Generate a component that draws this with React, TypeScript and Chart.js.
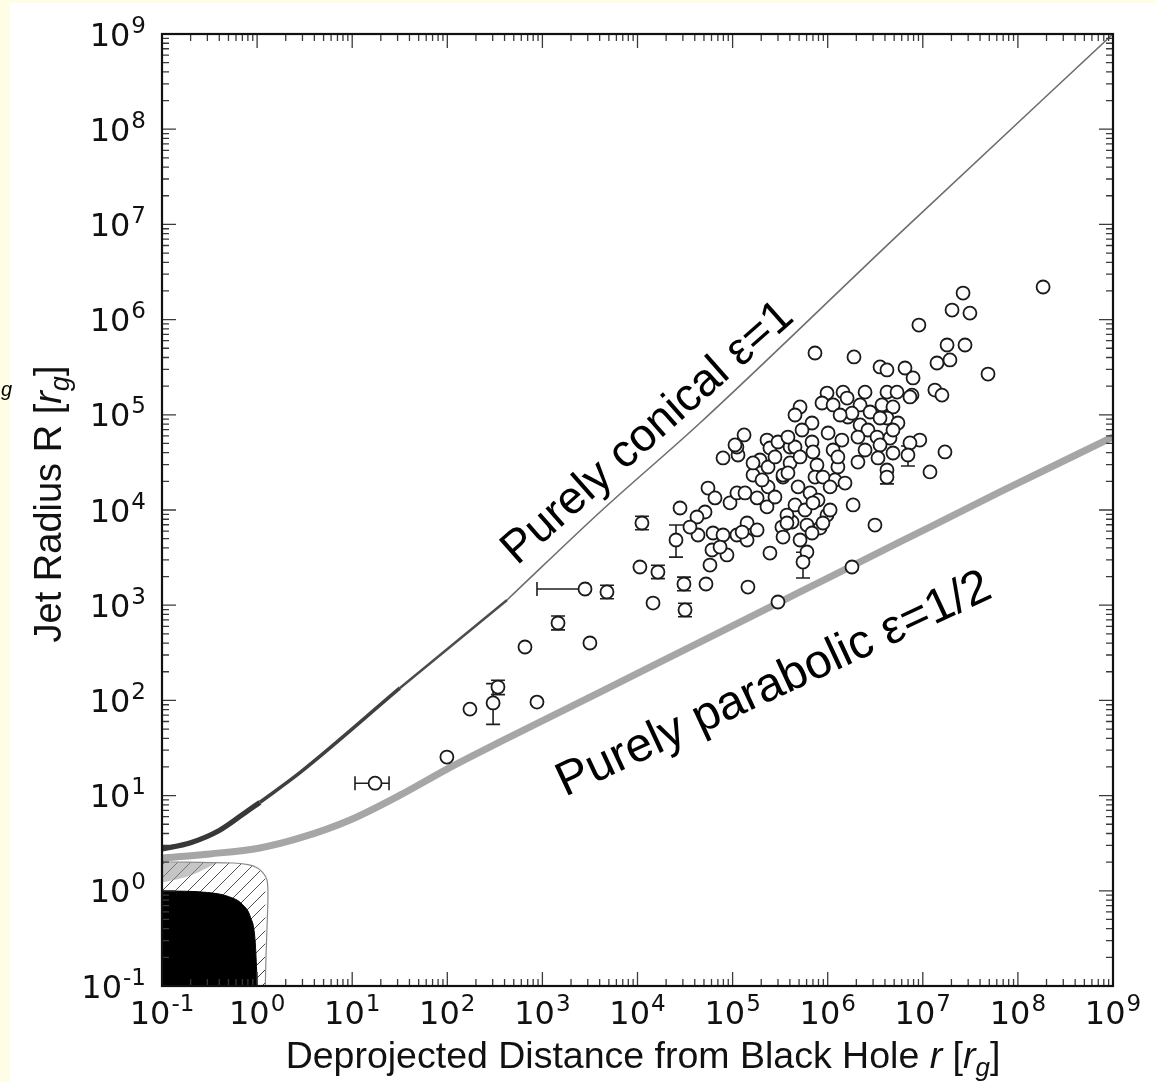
import React, { useEffect, useRef } from 'react';
import { Chart, registerables } from 'chart.js';

Chart.register(...registerables);

// ---- axes ----
const AXIS_MIN = 0.1;
const AXIS_MAX = 1e9;
const decadeExponents = [-1, 0, 1, 2, 3, 4, 5, 6, 7, 8, 9];
const minorMantissas = [2, 3, 4, 5, 6, 7, 8, 9];

// ---- black hole (horizon) and ergosphere outlines ----
const horizonDist = [0.1, 0.3, 0.5, 0.7, 0.85, 0.95, 0.99, 1.0];
const horizonRadius = [1.0, 0.96, 0.87, 0.72, 0.53, 0.31, 0.14, 0.1];
const ergoDist = [0.1, 0.56, 0.8, 1.0, 1.15, 1.27, 1.3, 1.28, 1.24, 1.22];
const ergoRadius = [2.02, 1.96, 1.88, 1.75, 1.55, 1.3, 0.9, 0.5, 0.2, 0.1];
const ergoShadeDist = [0.1, 0.2, 0.3, 0.38];
const ergoShadeTop = [2.0, 1.99, 1.98, 1.97];
const ergoShadeBottom = [1.22, 1.45, 1.75, 1.97];

// ---- model curves ----
const conicalDist = [0.1, 0.2, 0.4, 0.7, 1.07, 2.8, 31.8, 425, 4040, 45400, 5.75e6, 1e9];
const conicalRadius = [2.75, 3.2, 4.3, 6.3, 8.5, 17.3, 135, 1135, 9530, 82000, 8.1e6, 1e9];
const parabolicDist = [0.1, 0.32, 1.07, 2.82, 9.5, 31.8, 99.4, 358, 4040, 45400, 5.12e5, 5.75e6, 6.49e7, 1e9];
const parabolicRadius = [2.21, 2.44, 2.82, 3.59, 5.55, 10.1, 19.0, 36.6, 122, 410, 1377, 4613, 15460, 58500];

// ---- observed jet widths ----
const jetDist = [
  17.4, 99, 173, 303, 341, 656, 877, 1460, 3160, 2806,
  4775, 11140, 28000, 25400, 10600, 16400, 14560, 30800, 52500, 31600,
  79300, 114000, 111000, 132000, 230000, 247000, 300000, 194000, 164000, 236000,
  339000, 236000, 55100, 65300, 94000, 111000, 135000, 181000, 230000, 51300,
  42200, 142000, 330000, 43300, 62200, 79300, 111000, 142000, 339000, 60700,
  87300, 247000, 57800, 145000, 300000, 735000, 1.89e6, 3.55e6, 4.2e6, 6.5e6,
  7.9e6, 7.7e6, 1.41e7, 1.93e7, 1.8e7, 2.78e7, 1.34e7, 1.59e7, 984000, 1.45e6,
  2.47e6, 4.2e6, 5.36e6, 512000, 453000, 871000, 1.14e6, 1.6e6, 2.19e6, 3.72e6,
  4.86e6, 684000, 1.63e6, 2.19e6, 4.2e6, 5.48e6, 1.01e6, 1.41e6, 2.65e6, 3.3e6,
  4.52e6, 9.3e6, 7.33e6, 1.71e7, 402000, 684000, 700000, 1.14e6, 2.47e6, 3.55e6,
  4.86e6, 6.98e6, 1.19e7, 402000, 771000, 1.28e6, 2.08e6, 3.38e6, 4.2e6, 4.2e6,
  339000, 735000, 1.19e6, 1.52e6, 652000, 791000, 453000, 577000, 984000, 1.85e6,
  422000, 605000, 830000, 3.14e6, 512000, 605000, 550000, 1.8e6, 2.65e7, 2.03e7,
  3.13e7, 9.1e6, 4.85e7, 1.84e8, 106000, 7.33e6,
  453000, 512000, 891000, 1.06e6, 700000, 1.06e6, 373000, 684000, 891000, 1.28e6,
  2.08e6, 1.8e6, 2.79e6, 3.55e6, 4.86e6, 1.35e6, 537000, 382000, 382000, 488000,
  164000, 279000, 204000, 279000, 373000, 126000, 73800, 181000, 35600,
];
const jetRadius = [
  13.5, 25.4, 81, 94, 138, 364, 96, 650, 401, 1479,
  1377, 7300, 10500, 4840, 2520, 2230, 1054, 1670, 1670, 891,
  35200, 37800, 45900, 61400, 54300, 44800, 51800, 33500, 23300, 28300,
  22200, 17500, 17000, 13400, 11900, 15100, 15100, 13400, 10800, 9530,
  8440, 7300, 6620, 5460, 5730, 5460, 5460, 4840, 5200, 3800,
  3370, 3530, 2640, 1550, 1080, 446000, 405000, 318000, 296000, 310000,
  244000, 161000, 350000, 377000, 541000, 541000, 182000, 161000, 169000, 173000,
  173000, 173000, 173000, 121000, 99500, 133000, 127000, 150000, 127000, 127000,
  121000, 82000, 94800, 78200, 92500, 82000, 64400, 54300, 69200, 58400,
  57000, 54300, 50600, 40700, 45900, 51800, 40700, 42700, 42700, 48200,
  39700, 37800, 25100, 31200, 29700, 28300, 31900, 35200, 26300, 22200,
  23300, 22200, 20700, 19200, 15100, 12700, 11300, 10000, 8850, 11300,
  7480, 6950, 6470, 6950, 4840, 3620, 2840, 2520, 1.9e6, 1.26e6,
  1.17e6, 877000, 268000, 2.2e6, 48200, 154000,
  45900, 36100, 22200, 17500, 11900, 10000, 8850, 5730, 7300, 36100,
  58400, 104000, 107000, 92500, 69200, 99500, 69200, 58400, 24500, 17500,
  31200, 36100, 20700, 13700, 7300, 5870, 4080, 6170, 6620,
];

// ---- error bars (centre, low, high) ----
const errDist = [17.4, 303, 2806, 25400, 6.98e6, 550000, 341, 1460, 11140, 16400, 30800, 31600, 4775, 4.2e6];
const errRadius = [13.5, 94, 1479, 4840, 37800, 2840, 138, 650, 7300, 2230, 1670, 891, 1377, 22200];
const errDistLo = [10.7, 303, 877, 25400, 6.98e6, 550000, 341, 1460, 11140, 16400, 30800, 31600, 4775, 4.2e6];
const errDistHi = [24.4, 303, 3000, 25400, 6.98e6, 550000, 341, 1460, 11140, 16400, 30800, 31600, 4775, 4.2e6];
const errRadiusLo = [13.5, 56, 1479, 3200, 29000, 1930, 115, 550, 6200, 1900, 1420, 755, 1170, 18800];
const errRadiusHi = [13.5, 150, 1479, 6950, 47000, 3600, 163, 770, 8600, 2630, 1970, 1050, 1620, 26200];

// ---- texts ----
const xTitleRuns = [
  { t: 'Deprojected Distance from Black Hole ', italic: false, sub: false },
  { t: 'r', italic: true, sub: false },
  { t: ' [', italic: false, sub: false },
  { t: 'r', italic: true, sub: false },
  { t: 'g', italic: true, sub: true },
  { t: ']', italic: false, sub: false },
];
const yTitleRuns = [
  { t: 'Jet Radius R [', italic: false, sub: false },
  { t: 'r', italic: true, sub: false },
  { t: 'g', italic: true, sub: true },
  { t: ']', italic: false, sub: false },
];
const conicalLabel = 'Purely conical ε=1';
const parabolicLabel = 'Purely parabolic ε=1/2';

const SANS = '"Liberation Sans", Arial, sans-serif';
const DEJAVU = '"DejaVu Sans", sans-serif';

const pairs = (xs: number[], ys: number[]) => xs.map((x, i) => ({ x, y: ys[i] }));

function drawRuns(ctx: CanvasRenderingContext2D, runs: any[], cx: number, baseline: number, size: number) {
  const fontFor = (r: any) =>
    `${r.italic ? 'italic ' : ''}${r.sub ? Math.round(size * 0.7) : size}px ${SANS}`;
  const widths = runs.map((r) => {
    ctx.font = fontFor(r);
    return ctx.measureText(r.t).width;
  });
  const total = widths.reduce((a, b) => a + b, 0);
  let x = cx - total / 2;
  ctx.textAlign = 'left';
  ctx.textBaseline = 'alphabetic';
  runs.forEach((r, i) => {
    ctx.font = fontFor(r);
    ctx.fillText(r.t, x, baseline + (r.sub ? size * 0.2 : 0));
    x += widths[i];
  });
}

function drawPower(ctx: CanvasRenderingContext2D, exp: string, x: number, baseline: number, align: string) {
  const BASE = 32;
  const SUP = 23;
  ctx.font = `${BASE}px ${DEJAVU}`;
  const wb = ctx.measureText('10').width;
  ctx.font = `${SUP}px ${DEJAVU}`;
  const ws = ctx.measureText(exp).width;
  const total = wb + 1 + ws;
  const x0 = align === 'right' ? x - total : x - total / 2;
  ctx.textAlign = 'left';
  ctx.textBaseline = 'alphabetic';
  ctx.font = `${BASE}px ${DEJAVU}`;
  ctx.fillText('10', x0, baseline);
  ctx.font = `${SUP}px ${DEJAVU}`;
  ctx.fillText(exp, x0 + wb + 1, baseline - 13);
}

const decor = {
  id: 'decor',
  beforeDraw(chart: any) {
    const ctx = chart.ctx as CanvasRenderingContext2D;
    ctx.save();
    ctx.fillStyle = '#ffffff';
    ctx.fillRect(0, 0, chart.width, chart.height);
    ctx.fillStyle = '#fffde6';
    ctx.fillRect(0, 0, 10, chart.height);
    ctx.fillRect(0, 0, chart.width, 3);
    ctx.fillStyle = '#000';
    ctx.font = `italic 20px ${SANS}`;
    ctx.textAlign = 'left';
    ctx.textBaseline = 'alphabetic';
    ctx.fillText('g', 1, 396);
    ctx.restore();
  },
  beforeDatasetDraw(chart: any, args: any) {
    if (args.index !== 0) return;
    const ctx = chart.ctx as CanvasRenderingContext2D;
    const xs = chart.scales.x;
    const ys = chart.scales.y;
    ctx.save();
    ctx.strokeStyle = '#1f1f1f';
    ctx.lineWidth = 1.6;
    const cap = 7;
    errDist.forEach((d, i) => {
      const px = xs.getPixelForValue(d);
      const py = ys.getPixelForValue(errRadius[i]);
      const xl = xs.getPixelForValue(errDistLo[i]);
      const xh = xs.getPixelForValue(errDistHi[i]);
      const yl = ys.getPixelForValue(errRadiusLo[i]);
      const yh = ys.getPixelForValue(errRadiusHi[i]);
      ctx.beginPath();
      if (errDistLo[i] !== d || errDistHi[i] !== d) {
        ctx.moveTo(xl, py); ctx.lineTo(xh, py);
        ctx.moveTo(xl, py - cap); ctx.lineTo(xl, py + cap);
        ctx.moveTo(xh, py - cap); ctx.lineTo(xh, py + cap);
      }
      if (errRadiusLo[i] !== errRadius[i] || errRadiusHi[i] !== errRadius[i]) {
        ctx.moveTo(px, yl); ctx.lineTo(px, yh);
        ctx.moveTo(px - cap, yl); ctx.lineTo(px + cap, yl);
        ctx.moveTo(px - cap, yh); ctx.lineTo(px + cap, yh);
      }
      ctx.stroke();
    });
    ctx.restore();
  },
  afterDraw(chart: any) {
    const ctx = chart.ctx as CanvasRenderingContext2D;
    const a = chart.chartArea;
    const xs = chart.scales.x;
    const ys = chart.scales.y;
    ctx.save();
    // ticks (inward, all four sides)
    ctx.strokeStyle = '#3a3a3a';
    ctx.lineWidth = 1.3;
    ctx.beginPath();
    decadeExponents.forEach((e) => {
      const v = Math.pow(10, e);
      const marks = [{ v, len: 14 }];
      if (e < decadeExponents[decadeExponents.length - 1]) {
        minorMantissas.forEach((m) => marks.push({ v: m * v, len: 7 }));
      }
      marks.forEach(({ v: mv, len }) => {
        const px = xs.getPixelForValue(mv);
        ctx.moveTo(px, a.bottom); ctx.lineTo(px, a.bottom - len);
        ctx.moveTo(px, a.top); ctx.lineTo(px, a.top + len);
        const py = ys.getPixelForValue(mv);
        ctx.moveTo(a.left, py); ctx.lineTo(a.left + len, py);
        ctx.moveTo(a.right, py); ctx.lineTo(a.right - len, py);
      });
    });
    ctx.stroke();
    // frame
    ctx.strokeStyle = '#111';
    ctx.lineWidth = 2.2;
    ctx.strokeRect(a.left, a.top, a.right - a.left, a.bottom - a.top);
    // tick labels
    ctx.fillStyle = '#111';
    decadeExponents.forEach((e) => {
      const v = Math.pow(10, e);
      const exp = e < 0 ? '-' + Math.abs(e) : String(e);
      drawPower(ctx, exp, 146, ys.getPixelForValue(v) + 11.5, 'right');
      drawPower(ctx, exp, xs.getPixelForValue(v), 1024, 'center');
    });
    // axis titles
    drawRuns(ctx, xTitleRuns, 643, 1068, 37.5);
    ctx.save();
    ctx.translate(61, 504);
    ctx.rotate(-Math.PI / 2);
    drawRuns(ctx, yTitleRuns, 0, 0, 38);
    ctx.restore();
    // curve annotations
    ctx.textAlign = 'left';
    ctx.textBaseline = 'alphabetic';
    ctx.fillStyle = '#000';
    ctx.save();
    ctx.font = `46px ${SANS}`;
    ctx.translate(517, 566);
    ctx.rotate((-41.5 * Math.PI) / 180);
    ctx.fillText(conicalLabel, 0, 0);
    ctx.restore();
    ctx.save();
    ctx.font = `48px ${SANS}`;
    ctx.translate(565, 797);
    ctx.rotate((-25 * Math.PI) / 180);
    ctx.fillText(parabolicLabel, 0, 0);
    ctx.restore();
    ctx.restore();
  },
};

export default function App() {
  const ref = useRef<HTMLCanvasElement>(null);
  useEffect(() => {
    const tile = document.createElement('canvas');
    tile.width = 13;
    tile.height = 13;
    const tctx = tile.getContext('2d')!;
    tctx.strokeStyle = '#3c3c3c';
    tctx.lineWidth = 0.9;
    tctx.beginPath();
    tctx.moveTo(0, 13); tctx.lineTo(13, 0);
    tctx.moveTo(-2, 2); tctx.lineTo(2, -2);
    tctx.moveTo(11, 15); tctx.lineTo(15, 11);
    tctx.stroke();
    const hatch = tctx.createPattern(tile, 'repeat');

    const conicalPts = pairs(conicalDist, conicalRadius);
    const curve = (label: string, data: any[], color: string, width: number) => ({
      type: 'line',
      label,
      data,
      borderColor: color,
      borderWidth: width,
      pointRadius: 0,
      cubicInterpolationMode: 'monotone',
      fill: false,
    });
    const chart = new Chart(ref.current!, {
      type: 'scatter',
      data: {
        datasets: [
          {
            type: 'scatter',
            label: 'jets',
            data: pairs(jetDist, jetRadius),
            pointRadius: 6.5,
            pointBorderWidth: 1.8,
            pointBorderColor: '#1a1a1a',
            pointBackgroundColor: '#ffffff',
          },
          curve('conical thin', conicalPts.slice(7), '#6e6e6e', 1.6),
          curve('conical mid', conicalPts.slice(6, 8), '#4c4c4c', 2.5),
          curve('conical mid-thick', conicalPts.slice(4, 7), '#404040', 3.6),
          curve('conical thick', conicalPts.slice(0, 5), '#383838', 5.2),
          curve('parabolic', pairs(parabolicDist, parabolicRadius), '#a6a6a6', 7),
          {
            type: 'line',
            label: 'horizon',
            data: pairs(horizonDist, horizonRadius),
            borderColor: '#000000',
            backgroundColor: '#000000',
            borderWidth: 1,
            pointRadius: 0,
            cubicInterpolationMode: 'monotone',
            fill: 'start',
          },
          {
            type: 'line',
            label: 'ergo shade',
            data: pairs(ergoShadeDist, ergoShadeTop),
            borderWidth: 0,
            borderColor: 'rgba(0,0,0,0)',
            backgroundColor: 'rgba(150,150,150,0.55)',
            pointRadius: 0,
            cubicInterpolationMode: 'monotone',
            fill: '+1',
          },
          {
            type: 'line',
            label: 'ergo shade base',
            data: pairs(ergoShadeDist, ergoShadeBottom),
            borderWidth: 0,
            borderColor: 'rgba(0,0,0,0)',
            pointRadius: 0,
            cubicInterpolationMode: 'monotone',
            fill: false,
          },
          {
            type: 'line',
            label: 'ergosphere',
            data: pairs(ergoDist, ergoRadius),
            borderColor: '#8a8a8a',
            backgroundColor: hatch as any,
            borderWidth: 1.2,
            pointRadius: 0,
            tension: 0.35,
            fill: 'start',
          },
        ],
      },
      options: {
        responsive: false,
        animation: false,
        devicePixelRatio: 1,
        events: [],
        layout: { padding: { left: 162, right: 43, top: 34, bottom: 96 } },
        plugins: { legend: { display: false }, tooltip: { enabled: false } },
        scales: {
          x: { type: 'logarithmic', min: AXIS_MIN, max: AXIS_MAX, display: false },
          y: { type: 'logarithmic', min: AXIS_MIN, max: AXIS_MAX, display: false },
        },
      },
      plugins: [decor],
    } as any);
    return () => chart.destroy();
  }, []);
  return (
    <div style={{ position: 'absolute', left: 0, top: 0, width: 1156, height: 1082 }}>
      <canvas ref={ref} width={1156} height={1082} style={{ display: 'block', width: 1156, height: 1082 }} />
    </div>
  );
}
